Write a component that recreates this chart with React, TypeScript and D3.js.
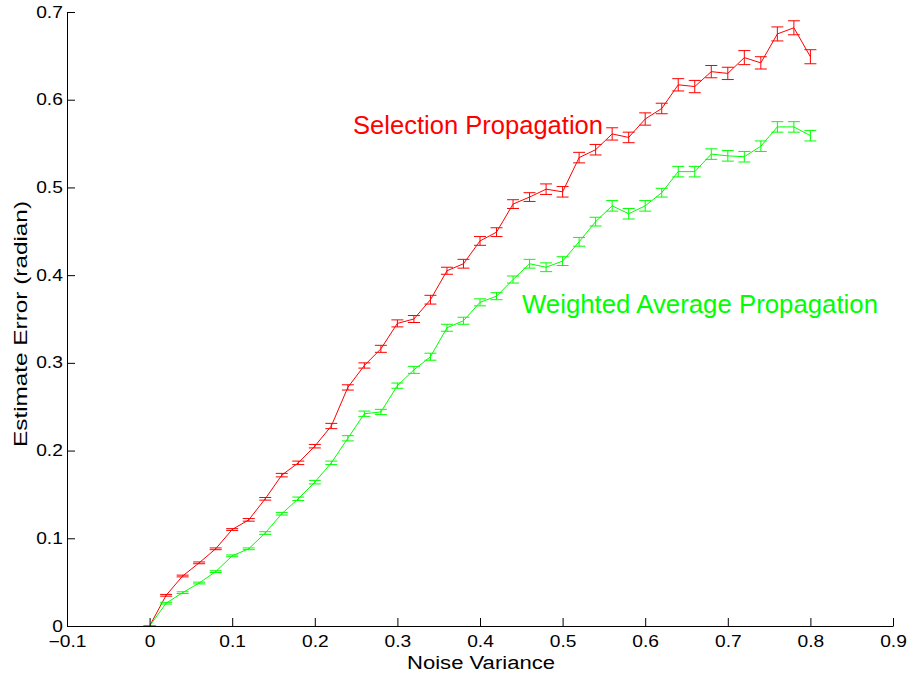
import React, { useEffect, useRef } from 'react';
import * as d3 from 'd3';

// noise variance steps
const noise = [
  0, 0.02, 0.04, 0.06, 0.08, 0.1, 0.12, 0.14, 0.16, 0.18, 0.2, 0.22, 0.24, 0.26, 0.28, 0.3,
  0.32, 0.34, 0.36, 0.38, 0.4, 0.42, 0.44, 0.46, 0.48, 0.5, 0.52, 0.54, 0.56, 0.58, 0.6,
  0.62, 0.64, 0.66, 0.68, 0.7, 0.72, 0.74, 0.76, 0.78, 0.8,
];

const selection = [
  0, 0.035, 0.057, 0.072, 0.088, 0.11, 0.121, 0.145, 0.172, 0.186, 0.205, 0.228, 0.272,
  0.297, 0.316, 0.345, 0.35, 0.372, 0.405, 0.413, 0.439, 0.449, 0.481, 0.489, 0.498, 0.495,
  0.534, 0.543, 0.561, 0.557, 0.578, 0.59, 0.617, 0.615, 0.632, 0.63, 0.648, 0.642, 0.675,
  0.682, 0.649,
];
const selectionErr = [
  0, 0.001, 0.001, 0.001, 0.001, 0.001, 0.0015, 0.0015, 0.002, 0.002, 0.002, 0.003, 0.003,
  0.003, 0.004, 0.004, 0.004, 0.005, 0.004, 0.005, 0.005, 0.005, 0.005, 0.005, 0.006, 0.006,
  0.006, 0.006, 0.007, 0.006, 0.007, 0.006, 0.007, 0.007, 0.007, 0.007, 0.008, 0.007, 0.008,
  0.008, 0.008,
];

const weighted = [
  0, 0.026, 0.038, 0.049, 0.062, 0.08, 0.088, 0.106, 0.128, 0.145, 0.164, 0.186, 0.214,
  0.242, 0.244, 0.274, 0.292, 0.307, 0.34, 0.348, 0.369, 0.376, 0.395, 0.413, 0.409, 0.416,
  0.438, 0.461, 0.479, 0.47, 0.479, 0.494, 0.518, 0.518, 0.538, 0.536, 0.535, 0.547, 0.569,
  0.569, 0.559,
];
const weightedErr = [
  0, 0.001, 0.001, 0.001, 0.001, 0.001, 0.001, 0.0015, 0.0015, 0.002, 0.002, 0.002, 0.003,
  0.003, 0.003, 0.003, 0.004, 0.004, 0.004, 0.004, 0.004, 0.004, 0.004, 0.005, 0.005, 0.005,
  0.005, 0.005, 0.006, 0.006, 0.006, 0.005, 0.006, 0.006, 0.006, 0.006, 0.006, 0.006, 0.006,
  0.006, 0.006,
];

const xTicks = [-0.1, 0, 0.1, 0.2, 0.3, 0.4, 0.5, 0.6, 0.7, 0.8, 0.9];
const yTicks = [0, 0.1, 0.2, 0.3, 0.4, 0.5, 0.6, 0.7];

const fmt = (d: number) => {
  if (Math.abs(d) < 1e-9) return '0';
  return d3.format('.1f')(d).replace('-', '\u2212');
};

const App: React.FC = () => {
  const ref = useRef<SVGSVGElement>(null);

  useEffect(() => {
    const width = 911;
    const height = 677;
    const svg = d3.select(ref.current).attr('width', width).attr('height', height);
    svg.selectAll('*').remove();

    const x = d3.scaleLinear().domain([-0.1, 0.9]).range([67, 893]);
    const y = d3.scaleLinear().domain([0, 0.7]).range([626, 12]);
    const font = 'Liberation Sans, Arial, Helvetica, sans-serif';

    const series = [
      { values: selection, err: selectionErr, color: '#ff0000' },
      { values: weighted, err: weightedErr, color: '#00ff00' },
    ];

    const line = d3.line<number>()
      .x((_, i) => x(noise[i]))
      .y(d => y(d));

    series.forEach(s => {
      const g = svg.append('g');
      g.append('path')
        .attr('d', line(s.values))
        .attr('fill', 'none')
        .attr('stroke', s.color)
        .attr('stroke-width', 1);

      const cap = 6;
      const bars = g.selectAll('g.eb')
        .data(s.values.map((v, i) => ({ x: noise[i], v, e: s.err[i] })))
        .join('g');
      bars.append('line')
        .attr('x1', d => x(d.x)).attr('x2', d => x(d.x))
        .attr('y1', d => y(d.v - d.e)).attr('y2', d => y(d.v + d.e))
        .attr('stroke', s.color);
      bars.append('line')
        .attr('x1', d => x(d.x) - cap).attr('x2', d => x(d.x) + cap)
        .attr('y1', d => y(d.v - d.e)).attr('y2', d => y(d.v - d.e))
        .attr('stroke', s.color);
      bars.append('line')
        .attr('x1', d => x(d.x) - cap).attr('x2', d => x(d.x) + cap)
        .attr('y1', d => y(d.v + d.e)).attr('y2', d => y(d.v + d.e))
        .attr('stroke', s.color);
    });

    // axes (MATLAB style, ticks pointing inward)
    const xAxis = svg.append('g')
      .attr('transform', `translate(0,${y(0)})`)
      .call(d3.axisBottom(x).tickValues(xTicks).tickSizeInner(-8).tickSizeOuter(0)
        .tickFormat(d => fmt(+d)));
    xAxis.selectAll('text')
      .attr('y', 10)
      .attr('transform', 'scale(1.2,1)')
      .attr('font-family', font)
      .attr('font-size', 16)
      .attr('fill', '#000');
    xAxis.selectAll('line,path').attr('stroke', '#000');

    const yAxis = svg.append('g')
      .attr('transform', `translate(${x(-0.1)},0)`)
      .call(d3.axisLeft(y).tickValues(yTicks).tickSizeInner(-8).tickSizeOuter(0)
        .tickFormat(d => fmt(+d)));
    yAxis.selectAll('text')
      .attr('x', -3.5)
      .attr('transform', 'scale(1.2,1)')
      .attr('font-family', font)
      .attr('font-size', 16)
      .attr('fill', '#000');
    yAxis.selectAll('line,path').attr('stroke', '#000');

    svg.append('text')
      .attr('x', 407).attr('y', 669)
      .attr('font-family', font).attr('font-size', 18)
      .attr('textLength', 148).attr('lengthAdjust', 'spacingAndGlyphs')
      .text('Noise Variance');

    svg.append('text')
      .attr('transform', `translate(27,${y(0.35) + 5}) rotate(-90)`)
      .attr('text-anchor', 'middle')
      .attr('font-family', font).attr('font-size', 19)
      .attr('textLength', 246).attr('lengthAdjust', 'spacingAndGlyphs')
      .text('Estimate Error (radian)');

    svg.append('text')
      .attr('x', 353).attr('y', 134)
      .attr('font-family', font).attr('font-size', 25)
      .attr('textLength', 250).attr('lengthAdjust', 'spacingAndGlyphs')
      .attr('fill', '#ff0000')
      .text('Selection Propagation');

    svg.append('text')
      .attr('x', 522).attr('y', 313)
      .attr('font-family', font).attr('font-size', 25)
      .attr('textLength', 356).attr('lengthAdjust', 'spacingAndGlyphs')
      .attr('fill', '#00ff00')
      .text('Weighted Average Propagation');
  }, []);

  return <svg ref={ref} style={{ position: 'absolute', left: 0, top: 0, background: '#fff' }} />;
};

export default App;
